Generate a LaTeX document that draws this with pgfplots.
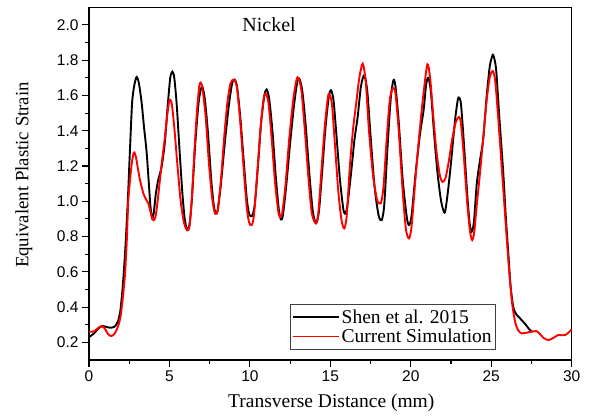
\documentclass[border=0pt]{standalone}
\usepackage{fontspec}
\setmainfont{Liberation Serif}
\newfontfamily\sansf{Liberation Sans}
\usepackage{pgfplots}
\pgfplotsset{compat=1.18}

\pgfplotstableread{
x y
0 0.23
0.3 0.25
0.6 0.28
0.85 0.293
1.1 0.287
1.35 0.283
1.6 0.29
1.8 0.32
1.95 0.38
2.1 0.52
2.25 0.72
2.4 0.98
2.55 1.3
2.68 1.56
2.82 1.66
2.96 1.705
3.1 1.67
3.27 1.56
3.42 1.42
3.58 1.28
3.72 1.1
3.82 0.97
3.92 0.905
4.02 0.93
4.15 1.04
4.3 1.12
4.5 1.19
4.7 1.32
4.9 1.55
5.05 1.70
5.18 1.735
5.3 1.70
5.45 1.55
5.6 1.33
5.8 1.05
5.95 0.9
6.1 0.84
6.25 0.87
6.4 1.02
6.6 1.32
6.8 1.55
6.95 1.635
7.05 1.648
7.2 1.58
7.4 1.38
7.6 1.12
7.75 0.98
7.88 0.93
8.0 0.95
8.2 1.10
8.45 1.34
8.7 1.55
8.9 1.67
9.05 1.69
9.2 1.65
9.4 1.48
9.6 1.25
9.8 1.02
9.95 0.93
10.12 0.915
10.3 0.98
10.5 1.2
10.7 1.45
10.9 1.60
11.04 1.634
11.2 1.58
11.4 1.40
11.6 1.15
11.8 0.95
11.93 0.897
12.05 0.92
12.25 1.08
12.5 1.33
12.75 1.55
12.95 1.68
13.07 1.696
13.25 1.63
13.45 1.45
13.7 1.15
13.9 0.95
14.05 0.885
14.15 0.88
14.3 0.95
14.5 1.18
14.7 1.42
14.9 1.59
15.04 1.63
15.2 1.57
15.4 1.35
15.6 1.12
15.8 0.96
15.91 0.93
16.05 0.97
16.3 1.17
16.5 1.35
16.7 1.48
16.9 1.65
17.11 1.715
17.3 1.62
17.5 1.37
17.75 1.08
18.0 0.92
18.19 0.893
18.35 0.98
18.55 1.30
18.75 1.58
18.92 1.686
19.05 1.65
19.25 1.45
19.5 1.12
19.75 0.91
19.89 0.865
20.05 0.92
20.3 1.16
20.57 1.38
20.8 1.52
20.95 1.66
21.09 1.70
21.25 1.62
21.45 1.38
21.65 1.17
21.85 1.02
22.0 0.955
22.13 0.94
22.3 1.05
22.5 1.22
22.75 1.46
22.92 1.575
23.0 1.588
23.12 1.55
23.3 1.33
23.5 1.05
23.65 0.88
23.78 0.827
23.92 0.88
24.1 1.1
24.3 1.233
24.5 1.35
24.7 1.58
24.9 1.76
25.05 1.82
25.13 1.828
25.3 1.75
25.5 1.48
25.75 1.157
25.9 0.92
26.06 0.705
26.2 0.52
26.37 0.40
26.55 0.36
26.75 0.34
26.95 0.32
27.15 0.30
27.35 0.275
27.55 0.26
}\shen

\pgfplotstableread{
x y
0 0.26
0.3 0.262
0.55 0.28
0.8 0.293
1.0 0.275
1.2 0.245
1.4 0.236
1.6 0.25
1.8 0.29
1.95 0.34
2.1 0.45
2.24 0.59
2.35 0.78
2.44 1.0
2.55 1.12
2.65 1.21
2.75 1.265
2.82 1.277
2.92 1.25
3.05 1.18
3.17 1.12
3.38 1.044
3.55 1.01
3.69 0.988
3.85 0.93
3.95 0.90
4.04 0.893
4.15 0.92
4.3 1.03
4.5 1.2
4.7 1.35
4.85 1.48
4.98 1.565
5.05 1.575
5.15 1.55
5.3 1.42
5.5 1.2
5.7 1.0
5.9 0.88
6.1 0.835
6.25 0.86
6.4 1.03
6.55 1.28
6.7 1.50
6.85 1.65
6.94 1.673
7.05 1.64
7.25 1.48
7.45 1.22
7.65 1.02
7.8 0.94
7.87 0.93
8.0 0.95
8.2 1.12
8.4 1.36
8.6 1.56
8.8 1.67
9.03 1.69
9.2 1.64
9.4 1.45
9.6 1.2
9.8 0.97
9.95 0.88
10.11 0.865
10.25 0.92
10.45 1.15
10.65 1.40
10.85 1.58
10.98 1.61
11.15 1.56
11.35 1.36
11.55 1.12
11.75 0.95
11.87 0.91
12.0 0.93
12.2 1.08
12.45 1.36
12.7 1.58
12.9 1.69
13.01 1.70
13.2 1.63
13.4 1.42
13.65 1.12
13.85 0.93
14.1 0.875
14.25 0.93
14.45 1.18
14.65 1.42
14.82 1.57
14.92 1.61
15.1 1.55
15.3 1.30
15.5 1.05
15.7 0.89
15.87 0.846
16.02 0.92
16.2 1.18
16.4 1.40
16.6 1.55
16.8 1.70
17.01 1.78
17.2 1.68
17.4 1.40
17.65 1.15
17.9 1.01
18.13 0.988
18.3 1.08
18.5 1.35
18.7 1.58
18.9 1.643
19.05 1.61
19.25 1.40
19.5 1.05
19.7 0.84
19.89 0.789
20.05 0.86
20.3 1.14
20.55 1.40
20.8 1.62
21.03 1.777
21.2 1.70
21.4 1.48
21.6 1.28
21.8 1.15
21.96 1.11
22.15 1.13
22.35 1.22
22.55 1.34
22.8 1.45
23.0 1.478
23.12 1.44
23.3 1.25
23.5 1.0
23.68 0.83
23.82 0.78
23.95 0.83
24.1 0.98
24.3 1.16
24.5 1.36
24.7 1.56
24.9 1.70
25.09 1.739
25.25 1.68
25.45 1.45
25.7 1.13
25.9 0.87
26.1 0.62
26.3 0.42
26.5 0.31
26.7 0.265
26.89 0.251
27.1 0.253
27.35 0.258
27.6 0.262
27.8 0.264
28.0 0.25
28.25 0.225
28.55 0.213
28.85 0.225
29.17 0.242
29.4 0.24
29.6 0.242
29.8 0.255
30 0.274
}\sim

\begin{document}
\begin{tikzpicture}
\useasboundingbox (0,0) rectangle (590pt,418pt);
\begin{axis}[
  at={(89pt,58pt)}, anchor=south west,
  width=482.7pt, height=352.7pt, scale only axis,
  xmin=0, xmax=30, ymin=0.1, ymax=2.1,
  xtick={0,5,10,15,20,25,30},
  ytick={0.2,0.4,0.6,0.8,1.0,1.2,1.4,1.6,1.8,2.0},
  minor x tick num=1, minor y tick num=1,
  tick align=outside,
  major tick length=7pt, minor tick length=4pt,
  xtick pos=bottom, ytick pos=left,
  axis line style={line width=1.3pt},
  every tick/.style={black, line width=1.1pt},
  /pgf/number format/assume math mode=true,
  ticklabel style={font=\sansf\fontsize{15.5}{17}\selectfont},
  yticklabel style={/pgf/number format/.cd, fixed, fixed zerofill, precision=1},
  xlabel={Transverse Distance (mm)},
  ylabel={Equivalent Plastic Strain},
  xlabel style={font=\fontsize{19.5}{22}\selectfont, at={(axis description cs:0.502,-0.122)}, anchor=center},
  ylabel style={font=\fontsize{18.8}{22}\selectfont, at={(axis description cs:-0.1347,0.5245)}, anchor=center, rotate=0},
  legend style={at={(axis description cs:0.4164,0.0284)}, anchor=south west,
    draw=black!75, line width=0.8pt, font=\fontsize{19.5}{21}\selectfont,
    inner xsep=1.5pt, inner ysep=3.5pt, row sep=0.5pt},
  legend cell align=left,
  legend image code/.code={\draw[#1, line width=1.8pt] (0pt,0pt) -- (46pt,0pt);},
  clip=true,
]
\addplot[black, line width=1.9pt, smooth, tension=0.45] table[x=x,y=y] {\shen};
\addlegendentry{Shen et al. 2015}
\addplot[red, line width=1.9pt, smooth, tension=0.45] table[x=x,y=y] {\sim};
\addlegendentry{Current Simulation}
\node[font=\fontsize{20}{22}\selectfont] at (axis description cs:0.373,0.952) {Nickel};
\end{axis}
\end{tikzpicture}
\end{document}
